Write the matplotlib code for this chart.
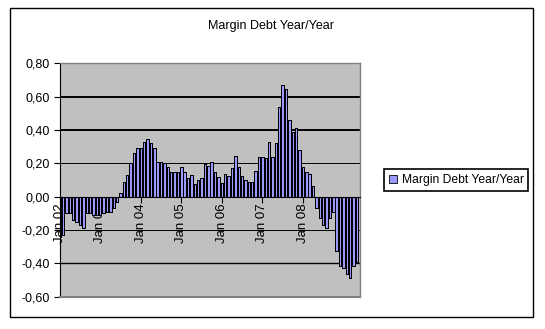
import matplotlib
matplotlib.use("Agg")
import matplotlib.pyplot as plt
from matplotlib.patches import Rectangle

plt.rcParams['font.family'] = ['Liberation Sans', 'DejaVu Sans']

title = "Margin Debt Year/Year"
series_name = "Margin Debt Year/Year"

# Monthly values, Jan 2002 .. May 2009
values = [
    -0.24, -0.23, -0.10, -0.10, -0.14, -0.15, -0.17, -0.19, -0.10, -0.10, -0.11, -0.11,
    -0.11, -0.10, -0.09, -0.09, -0.07, -0.03, 0.02, 0.09, 0.13, 0.20, 0.26, 0.29,
    0.29, 0.325, 0.345, 0.32, 0.29, 0.21, 0.21, 0.20, 0.18, 0.15, 0.145, 0.145,
    0.18, 0.145, 0.11, 0.13, 0.075, 0.10, 0.11, 0.195, 0.185, 0.21, 0.145, 0.115,
    0.085, 0.135, 0.125, 0.17, 0.245, 0.175, 0.125, 0.10, 0.09, 0.09, 0.155, 0.24,
    0.24, 0.23, 0.33, 0.24, 0.32, 0.54, 0.67, 0.645, 0.46, 0.385, 0.41, 0.28,
    0.175, 0.15, 0.135, 0.065, -0.065, -0.13, -0.17, -0.19, -0.13, -0.09, -0.325, -0.415,
    -0.43, -0.465, -0.485, -0.415, -0.39,
]
x_tick_labels = ["Jan 02", "Jan 03", "Jan 04", "Jan 05", "Jan 06", "Jan 07", "Jan 08", "Jan 09"]
y_ticks = [-0.6, -0.4, -0.2, 0.0, 0.2, 0.4, 0.6, 0.8]

W, H = 545, 329
fig = plt.figure(figsize=(W / 100, H / 100), dpi=100)
fig.patch.set_facecolor('white')

# chart area border
fig.patches.append(Rectangle((10 / W, 1 - 317 / H), 523 / W, 309 / H,
                             transform=fig.transFigure, fill=False,
                             edgecolor='black', lw=1))

ax = fig.add_axes([59.7 / W, 1 - 296.7 / H, 299.8 / W, 233.4 / H])
ax.set_facecolor('#C0C0C0')
ax.set_axisbelow(True)

xs = list(range(len(values)))
ax.bar(xs, values, width=0.72, color='#9999FF', edgecolor='black',
       linewidth=0.6, antialiased=False, zorder=2, label=series_name)

ax.set_xlim(0, 88.75)
ax.set_ylim(-0.6, 0.8)

ax.set_yticks(y_ticks)
ax.set_yticklabels([f"{v:.2f}".replace('.', ',') for v in y_ticks])
ax.set_xticks([12 * i for i in range(len(x_tick_labels))])
ax.set_xticklabels(x_tick_labels)

ax.grid(axis='y', color='black', lw=0.7)
for line, loc in zip(ax.get_ygridlines(), y_ticks):
    if abs(loc - 0.8) < 1e-9 or abs(loc + 0.6) < 1e-9 or abs(loc) < 1e-9:
        line.set_visible(False)
    elif abs(loc - 0.6) < 1e-9 or abs(loc - 0.4) < 1e-9:
        line.set_linewidth(1.4)
    elif abs(loc + 0.4) < 1e-9:
        line.set_linewidth(1.0)

ax.spines['bottom'].set_position(('data', 0))
ax.spines['bottom'].set_color('black')
ax.spines['bottom'].set_linewidth(0.8)
ax.spines['left'].set_color('black')
ax.spines['left'].set_linewidth(0.8)
for s in ('top', 'right'):
    ax.spines[s].set_color('#808080')
    ax.spines[s].set_linewidth(1.0)
ax.axhline(-0.6, color='#808080', lw=1.5, zorder=3, clip_on=False)

ax.tick_params(axis='x', direction='out', length=4, width=0.8, pad=1,
               labelrotation=90, labelsize=9.5)
ax.tick_params(axis='y', direction='out', length=4, width=0.8, pad=3,
               labelsize=9)

fig.text(271.5 / W, 1 - 26 / H, title, ha='center', va='center', fontsize=9)

leg = ax.legend(loc='center left', bbox_to_anchor=(384 / W, 1 - 180 / H),
                bbox_transform=fig.transFigure, frameon=True, fancybox=False,
                edgecolor='black', framealpha=1, fontsize=8.7,
                handlelength=0.7, handleheight=0.7, handletextpad=0.35,
                borderpad=0.4, borderaxespad=0)
leg.get_frame().set_linewidth(1.2)

fig.savefig('out.png', dpi=100)
